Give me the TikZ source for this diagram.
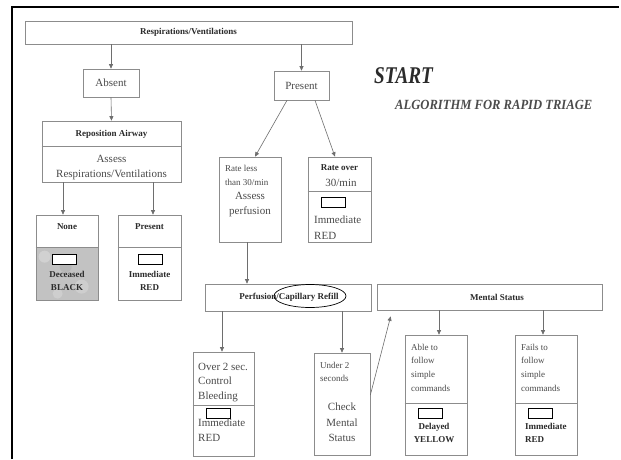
\documentclass[tikz,border=0pt]{standalone}
\usepackage{fontspec}
\usepackage{graphicx}
\setmainfont{Liberation Serif}
\usetikzlibrary{arrows.meta,shapes.geometric,calc,backgrounds}
\definecolor{txtc}{HTML}{4A4A4A}
\definecolor{boldc}{HTML}{2B2B2B}
\definecolor{boxc}{HTML}{8C8C8C}
\definecolor{arrc}{HTML}{6E6E6E}
\definecolor{shadec}{HTML}{C2C2C2}
\begin{document}
\begin{tikzpicture}[x=1pt,y=-1pt,
  box/.style={draw=boxc, line width=0.7pt, inner sep=0pt},
  divider/.style={draw=boxc, line width=0.7pt},
  lbl/.style={font=\fontsize{9}{13}\selectfont\bfseries, text=boldc, inner sep=0pt},
  txt/.style={font=\fontsize{11}{15}\selectfont, text=txtc, inner sep=0pt},
  sml/.style={font=\fontsize{9}{13.5}\selectfont, text=txtc, inner sep=0pt},
  tag/.style={draw=black, line width=0.6pt, fill=white, minimum width=24pt, minimum height=10pt, inner sep=0pt},
  arr/.style={draw=arrc, line width=0.6pt, -{Triangle[length=4.5pt,width=4pt]}}]
\useasboundingbox (0,0) rectangle (621,459);
% frame
\draw[line width=2.4pt, black] (12,459) -- (12,7) -- (619,7);

% top
\node[box, lbl, minimum width=327pt, minimum height=23pt] (resp) at (188.5,32.5) {Respirations/Ventilations};
\node[box, txt, minimum width=56pt, minimum height=28pt] (absent) at (111,83) {Absent};
\node[box, txt, minimum width=55pt, minimum height=29pt] (present) at (301.5,85.5) {Present};
\draw[arr] (absent |- resp.south) -- (absent.north);
\draw[arr] (present |- resp.south) -- (present.north);

% title
\node[font=\fontsize{24}{24}\selectfont\bfseries\itshape, text=boldc, inner sep=0pt, anchor=west] (start) at (374,76) {\scalebox{0.8}[1]{START}};
\node[font=\fontsize{14}{14}\selectfont\bfseries\itshape, text=boldc!85, inner sep=0pt, anchor=west] (algo) at (395,105) {\scalebox{0.9}[1]{ALGORITHM FOR RAPID TRIAGE}};

% reposition airway
\node[box, minimum width=139pt, minimum height=61pt] (repos) at (111.5,151.5) {};
\draw[divider] ([yshift=-26pt]repos.north west) -- ([yshift=-26pt]repos.north east);
\node[lbl] (reposT) at (111.5,134) {Reposition Airway};
\node[txt, align=center] (reposA) at (111.5,167.5) {Assess\\Respirations/Ventilations};
\draw[arr] (absent.south) -- (repos.north);

% none / present
\node[box, minimum width=62pt, minimum height=85pt] (none) at (67,257.5) {};
\begin{scope}[on background layer]
\fill[white] (0,0) rectangle (621,459);
\fill[shadec] ([yshift=-33pt]none.north west) rectangle (none.south east);
\fill[white, opacity=0.25] ([xshift=9pt,yshift=-42pt]none.north west) circle (6pt);
\fill[white, opacity=0.2] ([xshift=46pt,yshift=-72pt]none.north west) circle (7pt);
\fill[white, opacity=0.2] ([xshift=22pt,yshift=-79pt]none.north west) circle (5pt);
\fill[black, opacity=0.06] ([xshift=30pt,yshift=-52pt]none.north west) circle (6pt);
\end{scope}
\draw[divider] ([yshift=-33pt]none.north west) -- ([yshift=-33pt]none.north east);
\node[lbl] (noneT) at (67,227) {None};
\node[tag] (noneTag) at (64,259) {};
\node[lbl, align=center] (noneR) at (67,281) {Deceased\\BLACK};

\node[box, minimum width=63pt, minimum height=85pt] (presL) at (149.5,257.5) {};
\draw[divider] ([yshift=-33pt]presL.north west) -- ([yshift=-33pt]presL.north east);
\node[lbl] (presLT) at (149.5,227) {Present};
\node[tag] (presLTag) at (150.5,259) {};
\node[lbl, align=center] (presLR) at (149.5,281) {Immediate\\RED};

\draw[arr] ([xshift=-4pt]none.north |- repos.south) -- ([xshift=-4pt]none.north);
\draw[arr] ([xshift=3.5pt]presL.north |- repos.south) -- ([xshift=3.5pt]presL.north);

% rate boxes
\node[box, minimum width=62pt, minimum height=85pt] (rateless) at (250,199.5) {};
\node[sml, align=left, anchor=west] (ratelessT) at (225,175.5) {Rate less\\than 30/min};
\node[txt, align=center] (ratelessA) at (250,204.5) {Assess\\perfusion};

\node[box, minimum width=63pt, minimum height=85pt] (rateover) at (339.5,199.5) {};
\draw[divider] ([yshift=-35pt]rateover.north west) -- ([yshift=-35pt]rateover.north east);
\node[lbl] (rateoverT) at (339.5,168) {Rate over};
\node[txt] (rateoverN) at (341,183) {30/min};
\node[tag] (rateoverTag) at (333.5,202) {};
\node[txt, align=left, anchor=west, font=\fontsize{11}{16}\selectfont] (rateoverR) at (314,228) {Immediate\\RED};

\draw[arr] ([xshift=-14.5pt]present.south) -- ([xshift=5pt]rateless.north);
\draw[arr] ([xshift=13.5pt]present.south) -- ([xshift=-4.5pt]rateover.north);

% perfusion
\node[box, minimum width=166pt, minimum height=27pt] (perf) at (288,297.5) {};
\node[lbl] (perfT) at (289,297.5) {Perfusion/Capillary Refill};
\node[draw=black, line width=0.7pt, ellipse, minimum width=72pt, minimum height=23pt, inner sep=0pt] (ell) at (310,296) {};
\draw[arr] ([xshift=-3pt]rateless.south) -- ([xshift=-3pt]rateless.south |- perf.north);

% over 2 sec
\node[box, minimum width=61pt, minimum height=104pt] (over2) at (223.5,404) {};
\draw[divider] ([yshift=-54pt]over2.north west) -- ([yshift=-54pt]over2.north east);
\node[txt, align=left, anchor=west, font=\fontsize{11}{14.5}\selectfont] (over2T) at (198,382.5) {Over 2 sec.\\Control\\Bleeding};
\node[tag] (over2Tag) at (218.5,413) {};
\node[txt, align=left, anchor=west] (over2R) at (198,430.5) {Immediate\\RED};
\draw[arr] ([xshift=-1.5pt]over2.north |- perf.south) -- ([xshift=-1.5pt]over2.north);

% under 2
\node[box, minimum width=56pt, minimum height=102pt] (under2) at (342,404) {};
\node[sml, align=left, anchor=west, font=\fontsize{9}{13}\selectfont] (under2T) at (320,371.5) {Under 2\\seconds};
\node[txt, align=center, font=\fontsize{11}{15.5}\selectfont] (under2C) at (342,422.5) {Check\\Mental\\Status};
\draw[arr] (under2.north |- perf.south) -- (under2.north);

% mental status
\node[box, minimum width=225pt, minimum height=26pt] (mental) at (489.5,297) {};
\node[lbl] (mentalT) at (497,297) {Mental Status};
\draw[arr] ($(under2.east)+(0,-9)$) -- ($(mental.south west)+(14,6)$);

\node[box, minimum width=62pt, minimum height=120pt] (able) at (436,395) {};
\draw[divider] ([yshift=-69pt]able.north west) -- ([yshift=-69pt]able.north east);
\node[sml, align=left, anchor=west, font=\fontsize{9}{13.7}\selectfont] (ableT) at (411,367.5) {Able to\\follow\\simple\\commands};
\node[tag] (ableTag) at (430,413) {};
\node[lbl, align=center] (ableR) at (434,432.5) {Delayed\\YELLOW};

\node[box, minimum width=62pt, minimum height=120pt] (fails) at (546,395) {};
\draw[divider] ([yshift=-69pt]fails.north west) -- ([yshift=-69pt]fails.north east);
\node[sml, align=left, anchor=west, font=\fontsize{9}{13.7}\selectfont] (failsT) at (521,367.5) {Fails to\\follow\\simple\\commands};
\node[tag] (failsTag) at (540.5,413) {};
\node[lbl, align=left, anchor=west] (failsR) at (525,432.5) {Immediate\\RED};

\draw[arr] ([xshift=3pt]able.north |- mental.south) -- ([xshift=3pt]able.north);
\draw[arr] ([xshift=-3pt]fails.north |- mental.south) -- ([xshift=-3pt]fails.north);
\end{tikzpicture}
\end{document}
